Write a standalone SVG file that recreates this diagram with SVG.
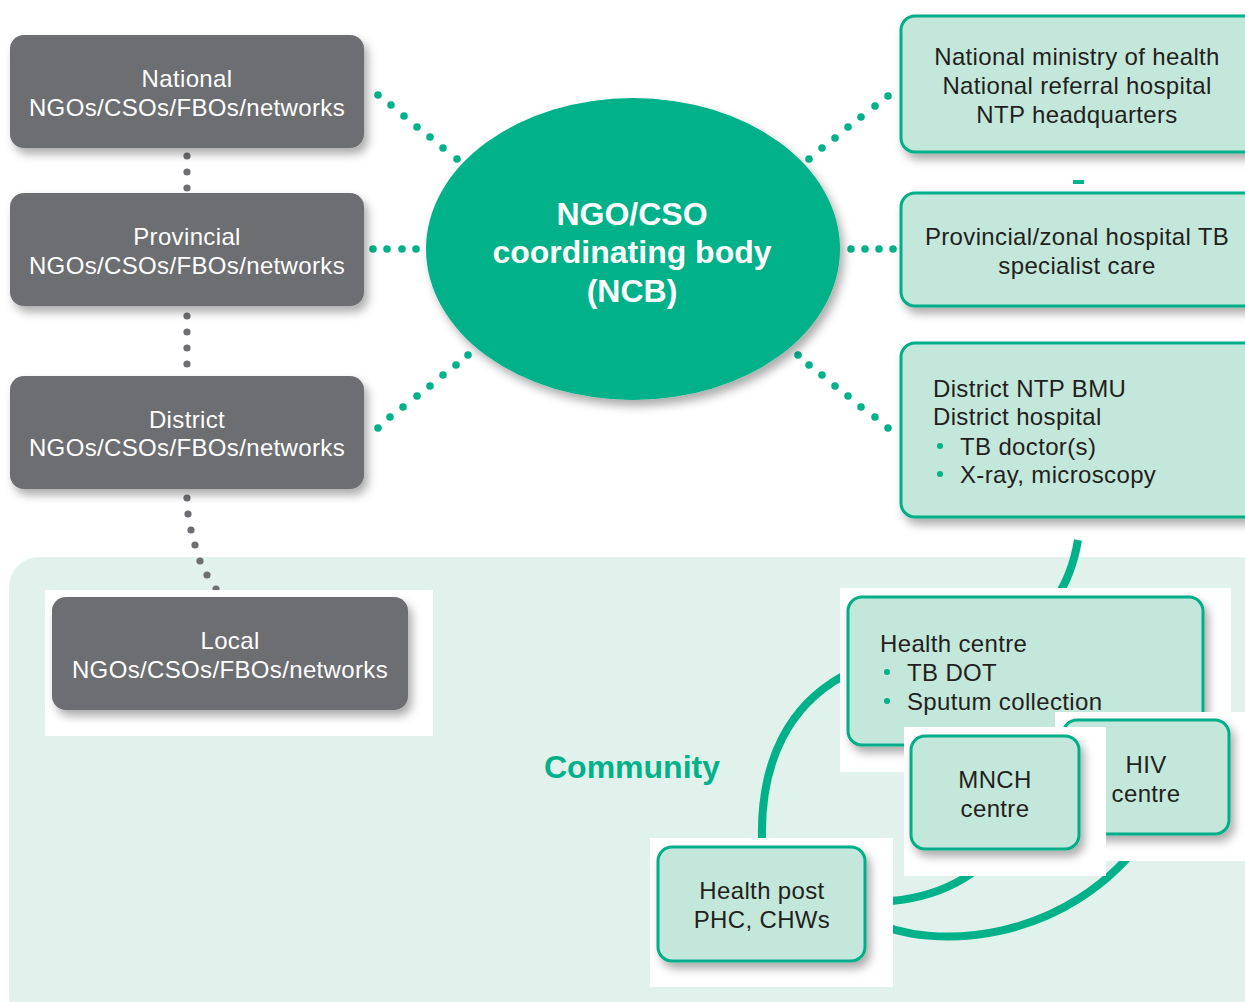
<svg xmlns="http://www.w3.org/2000/svg" width="1245" height="1002" viewBox="0 0 1245 1002">
<style>
.t{font-family:"Liberation Sans",Arial,sans-serif;font-size:24px;letter-spacing:0.35px}
.w{fill:#ffffff;text-anchor:middle}
.d{fill:#231f20}
.c{text-anchor:middle}
.gray{fill:#6d6e71}
.mint{fill:#c3e7da;stroke:#00ae88;stroke-width:3}
.gd{fill:#00b189}
.kd{fill:#6d6e71}
.arc{fill:none;stroke:#00b189;stroke-width:8}
.wb{fill:#ffffff}
.bul{fill:#00b189}
</style>
<defs>
<filter id="sh" x="-10%" y="-15%" width="130%" height="145%">
<feDropShadow dx="4" dy="6" stdDeviation="5" flood-color="#000" flood-opacity="0.33"/>
</filter>
</defs>
<rect width="1245" height="1002" fill="#ffffff"/>
<rect x="9" y="557" width="1260" height="470" rx="30" fill="#e1f2ec"/>

<g id="connectors">
<g class="kd">
<circle cx="187" cy="156" r="3.6"/><circle cx="187" cy="172" r="3.6"/><circle cx="187" cy="188" r="3.6"/>
<circle cx="187" cy="316" r="3.6"/><circle cx="187" cy="332" r="3.6"/><circle cx="187" cy="348" r="3.6"/><circle cx="187" cy="364" r="3.6"/>
<circle cx="187" cy="498" r="3.6"/><circle cx="188" cy="514" r="3.6"/><circle cx="191" cy="530" r="3.6"/><circle cx="195" cy="545" r="3.6"/><circle cx="200" cy="561" r="3.6"/><circle cx="207" cy="575" r="3.6"/><circle cx="216" cy="589" r="3.6"/>
</g>
<g class="gd">
<circle cx="378" cy="95" r="3.8"/><circle cx="391" cy="105" r="3.8"/><circle cx="404" cy="116" r="3.8"/><circle cx="417" cy="127" r="3.8"/><circle cx="430" cy="137" r="3.8"/><circle cx="443" cy="148" r="3.8"/><circle cx="457" cy="159" r="3.8"/>
<circle cx="373" cy="249" r="3.8"/><circle cx="387" cy="249" r="3.8"/><circle cx="402" cy="249" r="3.8"/><circle cx="416" cy="249" r="3.8"/>
<circle cx="468" cy="355" r="3.8"/><circle cx="456" cy="365" r="3.8"/><circle cx="443" cy="375" r="3.8"/><circle cx="430" cy="386" r="3.8"/><circle cx="417" cy="396" r="3.8"/><circle cx="403" cy="407" r="3.8"/><circle cx="390" cy="417" r="3.8"/><circle cx="378" cy="428" r="3.8"/>
<circle cx="809" cy="159" r="3.8"/><circle cx="822" cy="148" r="3.8"/><circle cx="835" cy="138" r="3.8"/><circle cx="848" cy="127" r="3.8"/><circle cx="861" cy="117" r="3.8"/><circle cx="875" cy="106" r="3.8"/><circle cx="888" cy="96" r="3.8"/>
<circle cx="851" cy="249" r="3.8"/><circle cx="865" cy="249" r="3.8"/><circle cx="879" cy="249" r="3.8"/><circle cx="893" cy="249" r="3.8"/>
<circle cx="798" cy="355" r="3.8"/><circle cx="809" cy="365" r="3.8"/><circle cx="822" cy="375" r="3.8"/><circle cx="835" cy="386" r="3.8"/><circle cx="848" cy="396" r="3.8"/><circle cx="861" cy="407" r="3.8"/><circle cx="875" cy="417" r="3.8"/><circle cx="888" cy="428" r="3.8"/>
</g>
<rect x="1073" y="180" width="11" height="4" fill="#00b189"/>
<path class="arc" d="M1078,540 Q1072,575 1056,598"/>
<path class="arc" d="M843,676 C790,705 760,760 762,840"/>
<path class="arc" d="M870,902 C930,902 975,880 1000,845"/>
<path class="arc" d="M870,920 C930,952 1070,945 1148,832"/>
</g>

<g id="national">
<rect class="gray" x="10" y="35" width="354" height="113" rx="14" filter="url(#sh)"/>
<text class="t w" x="187" y="87">National</text>
<text class="t w" x="187" y="116">NGOs/CSOs/FBOs/networks</text>
</g>
<g id="provincial">
<rect class="gray" x="10" y="193" width="354" height="113" rx="14" filter="url(#sh)"/>
<text class="t w" x="187" y="245">Provincial</text>
<text class="t w" x="187" y="274">NGOs/CSOs/FBOs/networks</text>
</g>
<g id="district">
<rect class="gray" x="10" y="376" width="354" height="113" rx="14" filter="url(#sh)"/>
<text class="t w" x="187" y="428">District</text>
<text class="t w" x="187" y="456">NGOs/CSOs/FBOs/networks</text>
</g>
<g id="local">
<rect class="wb" x="45" y="590" width="388" height="146"/>
<rect class="gray" x="52" y="597" width="356" height="113" rx="14" filter="url(#sh)"/>
<text class="t w" x="230" y="649">Local</text>
<text class="t w" x="230" y="678">NGOs/CSOs/FBOs/networks</text>
</g>

<g id="ncb">
<ellipse cx="633" cy="249" rx="207" ry="151" fill="#00b189" filter="url(#sh)"/>
<g font-family="'Liberation Sans',Arial,sans-serif" font-weight="bold" font-size="32" fill="#ffffff" text-anchor="middle">
<text x="632" y="225">NGO/CSO</text>
<text x="632" y="263">coordinating body</text>
<text x="632" y="302">(NCB)</text>
</g>
</g>

<g id="national-health">
<rect class="mint" x="901" y="16" width="360" height="136" rx="14" filter="url(#sh)"/>
<text class="t d c" x="1077" y="65">National ministry of health</text>
<text class="t d c" x="1077" y="94">National referral hospital</text>
<text class="t d c" x="1077" y="123">NTP headquarters</text>
</g>
<g id="provincial-health">
<rect class="mint" x="901" y="193" width="360" height="113" rx="14" filter="url(#sh)"/>
<text class="t d c" x="1077" y="245">Provincial/zonal hospital TB</text>
<text class="t d c" x="1077" y="274">specialist care</text>
</g>
<g id="district-health">
<rect class="mint" x="901" y="343" width="360" height="174" rx="14" filter="url(#sh)"/>
<text class="t d" x="933" y="397">District NTP BMU</text>
<text class="t d" x="933" y="425">District hospital</text>
<circle class="bul" cx="940" cy="446" r="3"/>
<text class="t d" x="960" y="455">TB doctor(s)</text>
<circle class="bul" cx="940" cy="474" r="3"/>
<text class="t d" x="960" y="483">X-ray, microscopy</text>
</g>

<text id="community-label" x="632" y="778" font-family="'Liberation Sans',Arial,sans-serif" font-weight="bold" font-size="32" fill="#00b189" text-anchor="middle">Community</text>

<g id="health-centre">
<rect class="wb" x="840" y="588" width="391" height="184"/>
<rect class="mint" x="848" y="597" width="355" height="148" rx="14" filter="url(#sh)"/>
<text class="t d" x="880" y="652">Health centre</text>
<circle class="bul" cx="887" cy="672" r="3"/>
<text class="t d" x="907" y="681">TB DOT</text>
<circle class="bul" cx="887" cy="701" r="3"/>
<text class="t d" x="907" y="710">Sputum collection</text>
</g>
<g id="hiv-centre">
<rect class="wb" x="1055" y="712" width="200" height="149"/>
<rect class="mint" x="1063" y="720" width="166" height="114" rx="14" filter="url(#sh)"/>
<text class="t d c" x="1146" y="773">HIV</text>
<text class="t d c" x="1146" y="802">centre</text>
</g>
<g id="mnch-centre">
<rect class="wb" x="904" y="727" width="202" height="149"/>
<rect class="mint" x="911" y="736" width="168" height="113" rx="14" filter="url(#sh)"/>
<text class="t d c" x="995" y="788">MNCH</text>
<text class="t d c" x="995" y="817">centre</text>
</g>
<g id="health-post">
<rect class="wb" x="650" y="838" width="243" height="149"/>
<rect class="mint" x="658" y="847" width="207" height="114" rx="14" filter="url(#sh)"/>
<text class="t d c" x="762" y="899">Health post</text>
<text class="t d c" x="762" y="928">PHC, CHWs</text>
</g>
</svg>
